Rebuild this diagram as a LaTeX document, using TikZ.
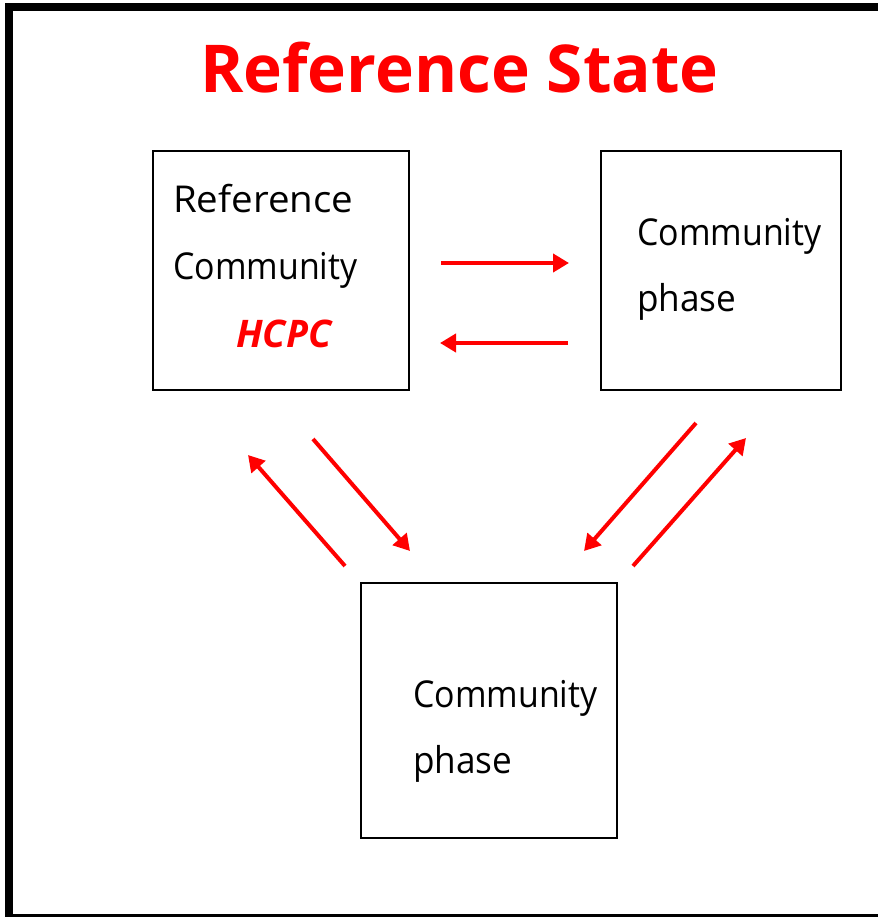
\documentclass[tikz,border=0pt]{standalone}
\usepackage{fontspec}
\setmainfont{Open Sans}
\usetikzlibrary{arrows.meta}
\definecolor{myred}{RGB}{255,0,0}
\tikzset{
  box/.style={draw=black, line width=2pt, fill=none},
  lbl/.style={anchor=base west, inner sep=0pt, font=\fontsize{37}{40}\selectfont},
  redarrow/.style={draw=myred, line width=4pt, -{Triangle[length=16pt,width=18pt]}},
}
\newcommand{\wRef}[1]{\scalebox{1.04}[1]{#1}}
\newcommand{\wCom}[1]{\scalebox{0.917}[1]{#1}}
\newcommand{\wPh}[1]{\scalebox{0.95}[1]{#1}}
\begin{document}
\begin{tikzpicture}[x=1pt,y=-1pt]
\useasboundingbox (0,0) rectangle (878,917);
% frame
\fill[black] (5,3) rectangle (878,10.7);
\fill[black] (5,3) rectangle (12.7,917);
\fill[black] (5,914.2) rectangle (878,917);
% title
\node[anchor=base west, inner sep=0pt, text=myred, font=\fontsize{66}{70}\selectfont\bfseries] (title) at (200,93) {\scalebox{0.996}[1]{Reference State}};
% boxes
\draw[box] (153,151) rectangle (409,390);
\draw[box] (601,151) rectangle (841,390);
\draw[box] (361,583) rectangle (617,838);
% labels
\node[lbl] (a1) at (173,213) {\wRef{Reference}};
\node[lbl] (a2) at (173,279) {\wCom{Community}};
\node[lbl, text=myred, font=\fontsize{38}{40}\selectfont\bfseries\itshape] (a3) at (236,347) {HCPC};
\node[lbl] (b1) at (637,245) {\wCom{Community}};
\node[lbl] (b2) at (637,311) {\wPh{phase}};
\node[lbl] (c1) at (413,707) {\wCom{Community}};
\node[lbl] (c2) at (413,773) {\wPh{phase}};
% arrows
\coordinate (t1) at (441,263); \coordinate (t2) at (569,263);
\coordinate (u1) at (568,343); \coordinate (u2) at (440,343);
\coordinate (l1) at (345,566); \coordinate (l2) at (248,455);
\coordinate (m1) at (313,439); \coordinate (m2) at (410,551);
\coordinate (r1) at (696,423); \coordinate (r2) at (584,551);
\coordinate (s1) at (633,566); \coordinate (s2) at (746,438);
\draw[redarrow] (t1) -- (t2);
\draw[redarrow] (u1) -- (u2);
\draw[redarrow] (l1) -- (l2);
\draw[redarrow] (m1) -- (m2);
\draw[redarrow] (r1) -- (r2);
\draw[redarrow] (s1) -- (s2);
\end{tikzpicture}
\end{document}
